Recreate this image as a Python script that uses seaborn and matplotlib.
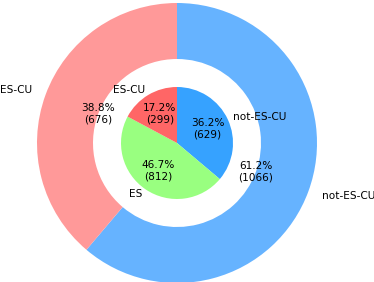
import matplotlib
matplotlib.use("Agg")
import matplotlib.pyplot as plt
import seaborn as sns

sns.set_theme(style="white")
plt.rcParams['font.family'] = ['DejaVu Sans']

outer_labels = ["not-ES-CU", "ES-CU"]
outer_counts = [1066, 676]
outer_pcts = [61.2, 38.8]
outer_colors = ["#66b3ff", "#ff9999"]

inner_labels = ["not-ES-CU", "ES", "ES-CU"]
inner_counts = [629, 812, 299]
inner_pcts = [36.2, 46.7, 17.2]
inner_colors = ["#36a2ff", "#99ff80", "#ff6666"]


def make_autopct(pcts, counts):
    it = iter(zip(pcts, counts))
    def f(_):
        p, c = next(it)
        return f"{p:.1f}%\n({c})"
    return f


fig = plt.figure(figsize=(3.74, 2.82), dpi=100)
ax = fig.add_axes([0, 0, 1, 1])

ax.pie(outer_counts, labels=outer_labels, colors=outer_colors, radius=1.0,
       startangle=90, counterclock=False, labeldistance=1.1, pctdistance=0.6,
       autopct=make_autopct(outer_pcts, outer_counts),
       wedgeprops=dict(width=0.4, linewidth=0),
       textprops=dict(fontsize=7.6, color="black"))
ax.pie(inner_counts, labels=inner_labels, colors=inner_colors, radius=0.4,
       startangle=90, counterclock=False, labeldistance=1.1, pctdistance=0.6,
       autopct=make_autopct(inner_pcts, inner_counts),
       wedgeprops=dict(linewidth=0),
       textprops=dict(fontsize=7.6, color="black"))

cx, cy, s = 177, 139, 140.0
ax.set_aspect('auto')
ax.set_xlim(-cx / s, (374 - cx) / s)
ax.set_ylim(-cy / s, (282 - cy) / s)
ax.axis('off')

fig.savefig("out.png", dpi=100)
